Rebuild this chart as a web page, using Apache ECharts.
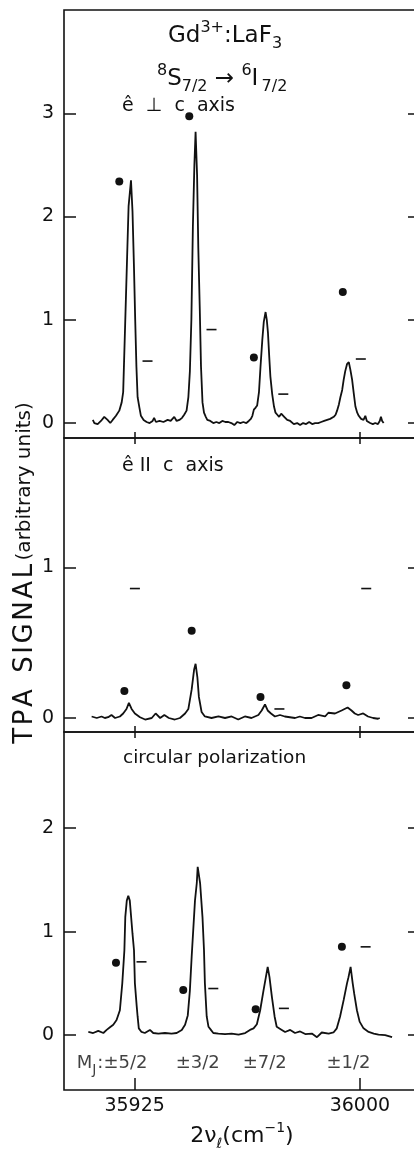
<!DOCTYPE html>
<html>
<head>
<meta charset="utf-8">
<script src="https://cdn.jsdelivr.net/npm/echarts@6/dist/echarts.min.js"></script>
<style>
  html, body { margin: 0; padding: 0; background: #fff; }
  #chart { width: 414px; height: 1150px; }
</style>
</head>
<body>
<div id="chart"></div>
<script>
// wavenumber (cm-1), signal (arb. units)
const tpaPerp = [
  [35911.1, 0.03], [35911.6, 0.0], [35912.7, -0.01], [35913.8, 0.02], [35914.9, 0.06],
  [35916.0, 0.03], [35916.9, 0.0], [35917.7, 0.03], [35918.8, 0.07], [35919.9, 0.12],
  [35920.7, 0.2], [35921.2, 0.3], [35921.7, 0.8], [35922.1, 1.2], [35922.5, 1.6],
  [35923.0, 2.1], [35923.8, 2.35], [35924.3, 2.05], [35924.8, 1.5], [35925.2, 1.0],
  [35925.6, 0.55], [35926.0, 0.25], [35926.6, 0.15], [35927.1, 0.07], [35928.0, 0.03],
  [35929.0, 0.01], [35930.0, 0.0], [35931.0, 0.02], [35931.5, 0.05], [35932.1, 0.01],
  [35933.3, 0.02], [35934.6, 0.01], [35936.0, 0.03], [35937.0, 0.02], [35938.2, 0.06],
  [35939.0, 0.02], [35939.9, 0.03], [35940.8, 0.05], [35941.5, 0.08], [35942.3, 0.12],
  [35942.9, 0.25], [35943.4, 0.5], [35943.9, 1.0], [35944.4, 1.9], [35944.9, 2.5],
  [35945.3, 2.82], [35945.8, 2.4], [35946.2, 1.7], [35946.7, 1.1], [35947.1, 0.55],
  [35947.6, 0.2], [35948.1, 0.1], [35948.7, 0.06], [35949.2, 0.03], [35950.2, 0.02],
  [35951.2, 0.0], [35952.2, 0.01], [35953.2, 0.0], [35954.2, 0.02], [35955.2, 0.01],
  [35956.2, 0.01], [35957.2, 0.0], [35958.2, -0.02], [35959.2, 0.01], [35960.2, 0.0],
  [35961.2, 0.01], [35962.2, 0.0], [35963.0, 0.02], [35963.7, 0.04], [35964.2, 0.07],
  [35964.7, 0.13], [35965.3, 0.15], [35965.8, 0.17], [35966.4, 0.3], [35966.9, 0.54],
  [35967.5, 0.8], [35968.0, 0.98], [35968.6, 1.075], [35969.0, 1.0], [35969.4, 0.87],
  [35969.8, 0.65], [35970.2, 0.45], [35970.8, 0.28], [35971.4, 0.16], [35971.9, 0.1],
  [35972.5, 0.08], [35973.1, 0.06], [35973.8, 0.09], [35974.3, 0.1], [35974.8, 0.06],
  [35975.8, 0.03], [35976.8, 0.02], [35978.0, -0.01], [35979.1, 0.0], [35980.1, -0.02],
  [35981.1, 0.0], [35982.1, -0.01], [35983.1, 0.01], [35984.1, -0.01], [35985.1, 0.0],
  [35986.1, 0.0], [35987.1, 0.01], [35988.1, 0.02], [35989.1, 0.03], [35990.1, 0.04],
  [35991.3, 0.06], [35991.9, 0.08], [35992.4, 0.12], [35993.0, 0.18], [35993.5, 0.25],
  [35994.1, 0.32], [35994.6, 0.42], [35995.1, 0.5], [35995.7, 0.57], [35996.3, 0.59],
  [35996.8, 0.52], [35997.4, 0.42], [35997.9, 0.3], [35998.5, 0.16], [35999.1, 0.1],
  [35999.6, 0.07], [36000.4, 0.04], [36001.2, 0.03], [36001.8, 0.07], [36002.3, 0.02],
  [36003.4, 0.0], [36004.3, -0.01], [36005.1, 0.0], [36006.0, -0.01], [36006.6, 0.02],
  [36007.0, 0.06], [36007.4, 0.02], [36007.9, 0.0]
];
const tpaPar = [
  [35910.7, 0.01], [35911.3, 0.0], [35912.4, 0.0], [35914.0, 0.01], [35915.1, 0.0],
  [35916.2, 0.005], [35917.3, 0.02], [35918.5, 0.0], [35920.1, 0.01], [35921.2, 0.03],
  [35922.3, 0.06], [35923.1, 0.1], [35924.0, 0.06], [35925.1, 0.03], [35926.8, 0.005],
  [35928.5, -0.01], [35930.7, 0.0], [35932.0, 0.03], [35933.5, 0.0], [35934.9, 0.02],
  [35936.4, 0.0], [35938.4, -0.01], [35940.1, 0.0], [35941.8, 0.03], [35942.9, 0.06],
  [35944.0, 0.19], [35944.8, 0.32], [35945.3, 0.36], [35945.9, 0.27], [35946.4, 0.14],
  [35947.3, 0.04], [35948.4, 0.01], [35950.6, 0.0], [35952.9, 0.01], [35955.1, 0.0],
  [35957.3, 0.01], [35959.5, -0.01], [35961.7, 0.01], [35963.9, 0.0], [35966.2, 0.02],
  [35967.3, 0.05], [35968.4, 0.09], [35969.3, 0.05], [35970.4, 0.03], [35971.7, 0.01],
  [35973.4, 0.02], [35975.0, 0.01], [35976.7, 0.005], [35978.4, 0.0], [35980.0, 0.01],
  [35981.7, 0.0], [35983.9, 0.0], [35986.1, 0.02], [35988.4, 0.01], [35989.5, 0.035],
  [35991.7, 0.03], [35993.9, 0.05], [35995.9, 0.07], [35997.2, 0.05], [35998.3, 0.03],
  [35999.4, 0.02], [36001.1, 0.03], [36002.7, 0.01], [36004.4, 0.0], [36006.0, -0.005],
  [36006.6, 0.0]
];
const tpaCirc = [
  [35909.6, 0.03], [35911.2, 0.02], [35912.9, 0.04], [35914.6, 0.02], [35915.7, 0.05],
  [35916.8, 0.075], [35917.9, 0.1], [35919.0, 0.145], [35920.1, 0.24], [35920.9, 0.5],
  [35921.6, 0.82], [35921.9, 1.14], [35922.4, 1.3], [35922.9, 1.346], [35923.4, 1.3],
  [35924.3, 0.98], [35924.8, 0.82], [35925.1, 0.5], [35925.7, 0.28], [35926.0, 0.18],
  [35926.4, 0.065], [35927.3, 0.03], [35928.4, 0.02], [35930.1, 0.05], [35931.2, 0.02],
  [35932.9, 0.015], [35935.1, 0.02], [35937.3, 0.015], [35939.0, 0.02], [35940.7, 0.05],
  [35941.8, 0.1], [35942.7, 0.19], [35943.4, 0.43], [35944.0, 0.76], [35945.1, 1.3],
  [35945.7, 1.47], [35946.0, 1.626], [35946.8, 1.47], [35947.6, 1.14], [35948.1, 0.82],
  [35948.4, 0.5], [35949.0, 0.18], [35949.6, 0.08], [35950.4, 0.05], [35951.2, 0.02],
  [35952.9, 0.015], [35955.1, 0.01], [35957.3, 0.015], [35959.6, 0.005], [35961.8, 0.02],
  [35963.4, 0.05], [35964.6, 0.065], [35965.7, 0.105], [35966.8, 0.24], [35967.9, 0.43],
  [35968.7, 0.56], [35969.3, 0.66], [35969.9, 0.56], [35970.7, 0.37], [35971.6, 0.18],
  [35972.3, 0.08], [35974.0, 0.05], [35975.1, 0.03], [35976.8, 0.05], [35978.4, 0.02],
  [35980.1, 0.035], [35981.8, 0.01], [35984.0, 0.015], [35985.7, -0.02], [35987.3, 0.025],
  [35989.6, 0.015], [35991.2, 0.025], [35992.3, 0.065], [35993.4, 0.18], [35994.6, 0.34],
  [35995.7, 0.5], [35996.2, 0.56], [35996.9, 0.66], [35997.6, 0.5], [35998.1, 0.4],
  [35999.0, 0.24], [35999.9, 0.13], [36001.2, 0.065], [36002.9, 0.03], [36004.6, 0.015],
  [36006.2, 0.005], [36008.4, 0.0], [36010.7, -0.02]
];

// calculated strengths: dots and bars, per panel
const perpDotX = [35919.9, 35943.2, 35964.7, 35994.3];
const perpDotY = [2.34, 2.97, 0.635, 1.27];
const perpBarX = [35929.3, 35950.6, 35974.5, 36000.3];
const perpBarY = [0.60, 0.905, 0.28, 0.62];
const parDotX = [35921.6, 35944.0, 35966.9, 35995.5];
const parDotY = [0.18, 0.58, 0.14, 0.217];
const parBarX = [35925.1, 35973.2, 36002.1];
const parBarY = [0.86, 0.06, 0.86];
const circDotX = [35918.8, 35941.2, 35965.3, 35994.0];
const circDotY = [0.70, 0.435, 0.25, 0.853];
const circBarX = [35927.3, 35951.2, 35974.7, 36001.9];
const circBarY = [0.708, 0.45, 0.258, 0.853];

// M_J assignments under the circular-polarization trace
const mjX = [35917.5, 35946.0, 35968.3, 35996.2];
const mjY = [-0.27, -0.27, -0.27, -0.27];
const mjText = ['{m|M}{j|J}{t|:±5/2}', '{t|±3/2}', '{t|±7/2}', '{t|±1/2}'];

const xTicks = [35925, 36000];
const perpTicks = [0, 1, 2, 3];
const parTicks = [0, 1];
const circTicks = [0, 1, 2];

const FONT = 'DejaVu Sans';
const INK = '#111';
const X_MIN = 35901.5, X_MAX = 36020;

const zip = (xs, ys) => xs.map((x, i) => [x, ys[i]]);

function xAxis(grid, pos, len, labels) {
  return {
    type: 'value', gridIndex: grid, position: pos, min: X_MIN, max: X_MAX,
    axisLine: { show: false, onZero: false }, splitLine: { show: false },
    axisTick: { show: true, inside: true, length: len, customValues: xTicks,
      lineStyle: { color: INK, width: 1.5 } },
    axisLabel: { show: labels, customValues: xTicks, margin: 7, formatter: v => String(v),
      color: INK, fontFamily: FONT, fontSize: 19 }
  };
}

function yAxis(grid, pos, min, max, ticks, labels) {
  return {
    type: 'value', gridIndex: grid, position: pos, min: min, max: max,
    axisLine: { show: false, onZero: false }, splitLine: { show: false },
    axisTick: { show: true, inside: true, length: 12, customValues: ticks,
      lineStyle: { color: INK, width: 1.5 } },
    axisLabel: { show: labels, customValues: ticks, margin: 10,
      color: INK, fontFamily: FONT, fontSize: 19 }
  };
}

function panelSeries(xi, yi, trace, dotX, dotY, barX, barY) {
  return [
    { type: 'line', xAxisIndex: xi, yAxisIndex: yi, data: trace, symbol: 'none',
      lineStyle: { color: INK, width: 1.8 } },
    { type: 'scatter', xAxisIndex: xi, yAxisIndex: yi, data: zip(dotX, dotY),
      symbol: 'circle', symbolSize: 8, itemStyle: { color: INK, opacity: 1 } },
    { type: 'scatter', xAxisIndex: xi, yAxisIndex: yi, data: zip(barX, barY),
      symbol: 'rect', symbolSize: [10, 1.6], itemStyle: { color: INK, opacity: 1 } }
  ];
}

const gridBase = { left: 64, width: 356, show: true, borderColor: INK, borderWidth: 1.6,
  backgroundColor: 'transparent', containLabel: false, outerBoundsMode: 'none' };

const supSub = {
  n: { fontSize: 23, fontFamily: FONT, lineHeight: 32, fill: INK },
  sup: { fontSize: 16, fontFamily: FONT, verticalAlign: 'top', fill: INK },
  sub: { fontSize: 16, fontFamily: FONT, verticalAlign: 'bottom', fill: INK }
};

function label(x, y, text, size) {
  return {
    type: 'text', x: x, y: y,
    style: { text: text, fill: INK, font: size + 'px "' + FONT + '"',
      align: 'left', verticalAlign: 'middle' }
  };
}

function richLabel(x, y, text, rich, align) {
  return {
    type: 'text', x: x, y: y,
    style: { text: text, rich: rich, fill: INK, align: align, verticalAlign: 'middle' }
  };
}

const chart = echarts.init(document.getElementById('chart'));

chart.setOption({
  animation: false,
  backgroundColor: '#fff',
  grid: [
    Object.assign({ top: 10, height: 428 }, gridBase),
    Object.assign({ top: 438, height: 294 }, gridBase),
    Object.assign({ top: 732, height: 358 }, gridBase)
  ],
  xAxis: [
    xAxis(0, 'bottom', 6, false),
    xAxis(1, 'top', 6, false),
    xAxis(1, 'bottom', 6, false),
    xAxis(2, 'top', 6, false),
    xAxis(2, 'bottom', 12, true)
  ],
  yAxis: [
    yAxis(0, 'left', -0.145, 4.0, perpTicks, true),
    yAxis(0, 'right', -0.145, 4.0, perpTicks, false),
    yAxis(1, 'left', -0.093, 1.86, parTicks, true),
    yAxis(1, 'right', -0.093, 1.86, parTicks, false),
    yAxis(2, 'left', -0.531, 2.93, circTicks, true),
    yAxis(2, 'right', -0.531, 2.93, circTicks, false)
  ],
  series: [].concat(
    panelSeries(0, 0, tpaPerp, perpDotX, perpDotY, perpBarX, perpBarY),
    panelSeries(2, 2, tpaPar, parDotX, parDotY, parBarX, parBarY),
    panelSeries(4, 4, tpaCirc, circDotX, circDotY, circBarX, circBarY),
    [{
      type: 'scatter', xAxisIndex: 4, yAxisIndex: 4, data: zip(mjX, mjY),
      symbolSize: 1, itemStyle: { color: 'rgba(0,0,0,0)' },
      label: {
        show: true, position: 'inside', formatter: p => mjText[p.dataIndex],
        rich: {
          t: { fontFamily: FONT, fontSize: 18, color: INK, lineHeight: 22 },
          m: { fontFamily: FONT, fontSize: 18, color: INK, lineHeight: 22 },
          j: { fontFamily: FONT, fontSize: 14, color: INK, verticalAlign: 'bottom', padding: [0, 1, -3, 0] }
        }
      }
    }]
  ),
  graphic: [
    richLabel(168, 36, '{n|Gd}{sup|3+}{n|:LaF}{sub|3}', supSub, 'left'),
    richLabel(157, 79, '{sup|8}{n|S}{sub|7/2}{n| → }{sup|6}{n|I}{sub|\u20097/2}', supSub, 'left'),
    label(122, 106, 'ê  ⊥  c  axis', 19),
    label(122, 466.5, 'ê II  c  axis', 19),
    label(123, 758, 'circular polarization', 18.5),
    {
      type: 'text', x: 25, y: 573, rotation: Math.PI / 2,
      style: {
        text: '{b|T\u200aP\u200aA  S\u200aI\u200aG\u200aN\u200aA\u200aL} {s|(arbitrary units)}',
        rich: {
          b: { fontSize: 26, fontFamily: FONT, fill: INK },
          s: { fontSize: 20, fontFamily: FONT, fill: INK }
        },
        fill: INK, align: 'center', verticalAlign: 'middle'
      }
    },
    richLabel(242, 1136, '{n|2ν}{sub|ℓ}{n|(cm}{sup|−1}{n|)}', {
      n: { fontSize: 22, fontFamily: FONT, lineHeight: 30, fill: INK },
      sup: { fontSize: 14, fontFamily: FONT, verticalAlign: 'top', fill: INK },
      sub: { fontSize: 14, fontFamily: FONT, verticalAlign: 'bottom', fill: INK }
    }, 'center')
  ]
});
</script>
</body>
</html>
